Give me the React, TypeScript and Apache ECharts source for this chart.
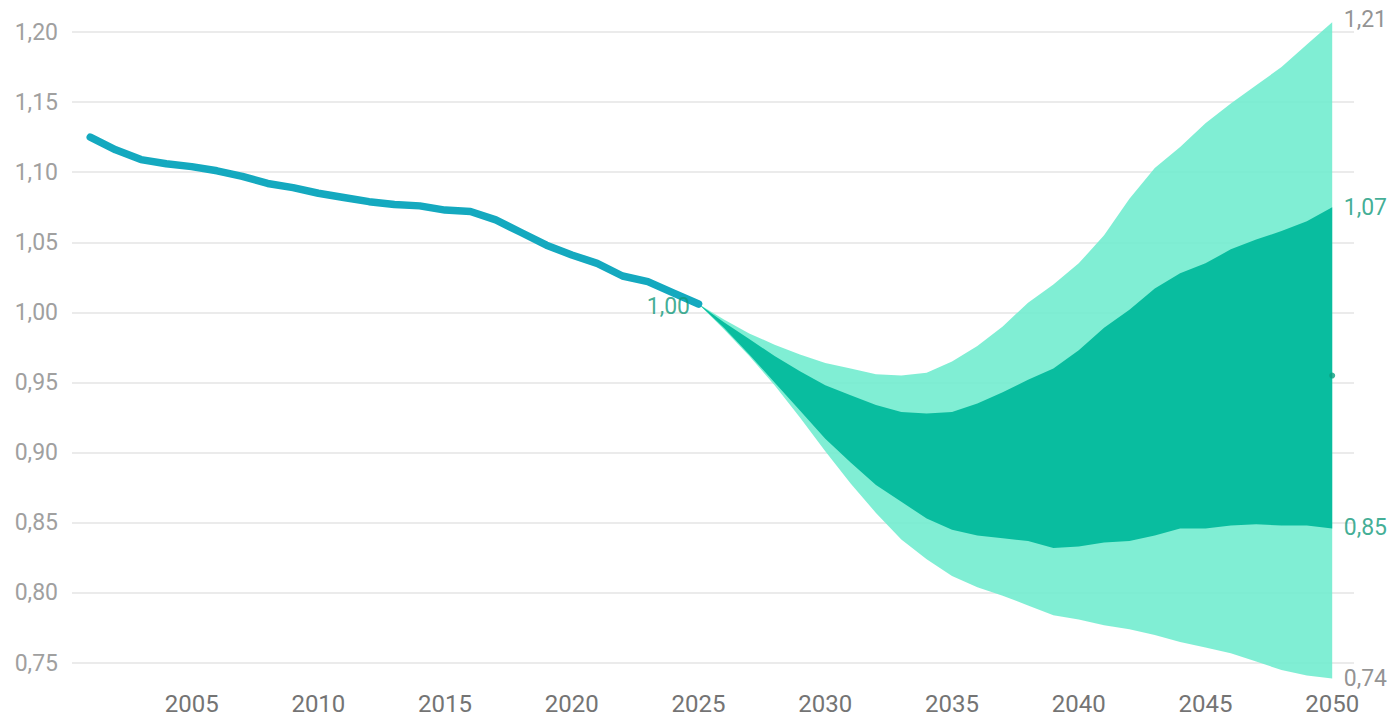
import React, { useEffect, useRef } from "react";
import * as echarts from "echarts";

const historyYears = [
  2001, 2002, 2003, 2004, 2005, 2006, 2007, 2008, 2009, 2010, 2011, 2012, 2013,
  2014, 2015, 2016, 2017, 2018, 2019, 2020, 2021, 2022, 2023, 2024, 2025,
];
const historyValues = [
  1.125, 1.116, 1.109, 1.106, 1.104, 1.101, 1.097, 1.092, 1.089, 1.085, 1.082,
  1.079, 1.077, 1.076, 1.073, 1.072, 1.066, 1.057, 1.048, 1.041, 1.035, 1.026,
  1.022, 1.014, 1.006,
];

const forecastYears = [
  2025, 2026, 2027, 2028, 2029, 2030, 2031, 2032, 2033, 2034, 2035, 2036, 2037,
  2038, 2039, 2040, 2041, 2042, 2043, 2044, 2045, 2046, 2047, 2048, 2049, 2050,
];
const outerHigh = [
  1.006, 0.995, 0.985, 0.977, 0.97, 0.964, 0.96, 0.956, 0.955, 0.957, 0.965,
  0.976, 0.99, 1.007, 1.02, 1.035, 1.055, 1.081, 1.103, 1.118, 1.135, 1.149,
  1.162, 1.175, 1.191, 1.207,
];
const innerHigh = [
  1.006, 0.993, 0.981, 0.969, 0.958, 0.948, 0.941, 0.934, 0.929, 0.928, 0.929,
  0.935, 0.943, 0.952, 0.96, 0.973, 0.989, 1.002, 1.017, 1.028, 1.035, 1.045,
  1.052, 1.058, 1.065, 1.075,
];
const innerLow = [
  1.006, 0.989, 0.97, 0.95, 0.93, 0.91, 0.893, 0.877, 0.865, 0.853, 0.845, 0.841,
  0.839, 0.837, 0.832, 0.833, 0.836, 0.837, 0.841, 0.846, 0.846, 0.848, 0.849,
  0.848, 0.848, 0.846,
];
const outerLow = [
  1.006, 0.988, 0.969, 0.948, 0.925, 0.901, 0.878, 0.857, 0.838, 0.824, 0.812,
  0.804, 0.798, 0.791, 0.784, 0.781, 0.777, 0.774, 0.77, 0.765, 0.761, 0.757,
  0.751, 0.745, 0.741, 0.739,
];
const medianEnd = 0.955;
const xTickLabels = [2005, 2010, 2015, 2020, 2025, 2030, 2035, 2040, 2045, 2050];

const fmt = (v: number) => v.toFixed(2).replace(".", ",");

const LINE = "#14a9bf";
const LIGHT = "rgba(114,236,207,0.9)";
const DARK = "#09bd9f";
const GREEN_TEXT = "#10997a";
const GRAY_TEXT = "#777777";
const FONT = "Roboto";

function bandSeries(name: string, low: number[], high: number[], color: string, z: number) {
  return {
    type: "custom",
    name,
    data: [0],
    clip: false,
    silent: true,
    z,
    renderItem: (_params: any, api: any) => {
      const top = forecastYears.map((x, i) => api.coord([x, high[i]]));
      const bottom = forecastYears
        .map((x, i) => api.coord([x, low[i]]))
        .reverse();
      return {
        type: "polygon",
        shape: { points: top.concat(bottom) },
        style: { fill: color },
      };
    },
  };
}

export default function App() {
  const ref = useRef<HTMLDivElement>(null);

  useEffect(() => {
    document.body.style.margin = "0";
    if (!ref.current) return;
    const chart = echarts.init(ref.current, undefined, { renderer: "svg" });

    const pairs = (xs: number[], ys: number[]) => xs.map((x, i) => [x, ys[i]]);
    const last = forecastYears.length - 1;
    const lastYear = forecastYears[last];

    const endLabels = [
      { v: outerHigh[last], c: GRAY_TEXT, off: [0, -3] },
      { v: innerHigh[last], c: GREEN_TEXT, off: [0, 0] },
      { v: innerLow[last], c: GREEN_TEXT, off: [0, -1] },
      { v: outerLow[last], c: GRAY_TEXT, off: [0, 0] },
    ];

    chart.setOption({
      animation: false,
      grid: { left: 72, right: 37, top: 32, bottom: 55, containLabel: false },
      xAxis: {
        type: "value",
        min: 2000.28,
        max: 2050.86,
        axisLine: { show: false },
        axisTick: { show: false },
        splitLine: { show: false },
        axisLabel: {
          customValues: xTickLabels,
          formatter: (v: number) => String(Math.round(v)),
          fontFamily: FONT,
          fontSize: 24,
          lineHeight: 24,
          color: "#747474",
          margin: 29,
        },
      },
      yAxis: {
        type: "value",
        min: 0.75,
        max: 1.2,
        interval: 0.05,
        axisLine: { show: false },
        axisTick: { show: false },
        splitLine: { lineStyle: { color: "#e4e4e4", width: 1.5 } },
        axisLabel: {
          formatter: (v: number) => fmt(v),
          fontFamily: FONT,
          fontSize: 23,
          color: "#a0a0a0",
          margin: 14,
        },
      },
      series: [
        bandSeries("outer", outerLow, outerHigh, LIGHT, 2),
        bandSeries("inner", innerLow, innerHigh, DARK, 3),
        {
          type: "line",
          name: "history",
          data: pairs(historyYears, historyValues),
          showSymbol: false,
          symbol: "none",
          lineStyle: { color: LINE, width: 7.5, cap: "round", join: "round" },
          clip: false,
          z: 5,
        },
        {
          type: "scatter",
          name: "startLabel",
          data: [[historyYears[historyYears.length - 1], historyValues[historyValues.length - 1]]],
          symbolSize: 1,
          itemStyle: { color: "rgba(0,0,0,0)" },
          label: {
            show: true,
            position: "left",
            distance: 8,
            offset: [0, 2],
            formatter: () => "1,00",
            fontFamily: FONT,
            fontSize: 23,
            color: GREEN_TEXT,
          },
          clip: false,
          z: 6,
        },
        {
          type: "scatter",
          name: "median",
          data: [[lastYear, medianEnd]],
          symbolSize: 6,
          itemStyle: { color: "#0b9e80" },
          clip: false,
          z: 6,
        },
        {
          type: "scatter",
          name: "endLabels",
          data: endLabels.map((e) => ({
            value: [lastYear, e.v],
            label: { color: e.c, offset: e.off },
          })),
          symbolSize: 1,
          itemStyle: { color: "rgba(0,0,0,0)" },
          label: {
            show: true,
            position: "right",
            distance: 11,
            formatter: (p: any) => fmt(p.value[1]),
            fontFamily: FONT,
            fontSize: 23,
          },
          clip: false,
          z: 6,
        },
      ],
    });

    return () => chart.dispose();
  }, []);

  return <div ref={ref} style={{ width: 1391, height: 718 }} />;
}
